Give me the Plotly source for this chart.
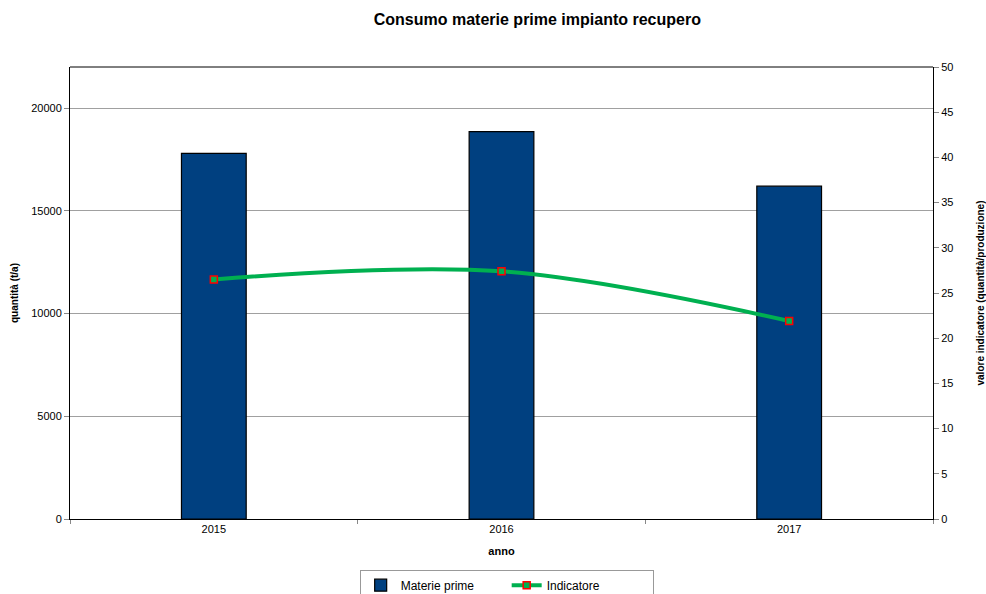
import plotly.graph_objects as go

anni = ["2015", "2016", "2017"]
materie_prime = [17800, 18850, 16200]
indicatore = [26.5, 27.4, 21.9]

y_left_ticks = [0, 5000, 10000, 15000, 20000]
y_right_ticks = list(range(0, 55, 5))

font_family = "Liberation Sans, Arial, sans-serif"

fig = go.Figure()

fig.add_trace(go.Bar(
    x=anni, y=materie_prime, name="Materie prime",
    width=0.225,
    marker=dict(color="#004080", line=dict(color="#000000", width=1.2)),
    yaxis="y",
))

fig.add_trace(go.Scatter(
    x=anni, y=indicatore, name="Indicatore",
    mode="lines+markers",
    line=dict(color="#00B050", width=4, shape="spline", smoothing=1),
    marker=dict(symbol="square", size=7, color="#00B050",
                line=dict(color="#FF0000", width=1.5)),
    yaxis="y2",
))

fig.update_layout(
    width=986, height=594,
    margin=dict(l=70, r=53, t=67, b=75),
    paper_bgcolor="white", plot_bgcolor="white",
    font=dict(family=font_family, size=11, color="#000000"),
    title=dict(text="<b>Consumo materie prime impianto recupero</b>",
               xref="container", x=0.545, xanchor="center",
               y=0.968, yanchor="middle",
               font=dict(size=16, family=font_family)),
    showlegend=True,
    legend=dict(orientation="h", x=0.506, xanchor="center",
                yref="container", y=0.041, yanchor="top",
                bordercolor="#999999", borderwidth=1, bgcolor="white",
                entrywidth=101, font=dict(size=12)),
    xaxis=dict(
        type="category", showline=True, linecolor="#000000", linewidth=1,
        ticks="outside", tickson="boundaries", ticklen=4, tickcolor="#888888",
        title=dict(text="<b>anno</b>", font=dict(size=11), standoff=13),
        tickfont=dict(size=11), showgrid=False, mirror=False,
    ),
    yaxis=dict(
        range=[0, 22000], tickvals=y_left_ticks,
        ticktext=[str(v) for v in y_left_ticks],
        showline=True, linecolor="#000000", linewidth=1,
        ticks="outside", ticklen=5, tickcolor="#888888",
        showgrid=True, gridcolor="#A0A0A0", gridwidth=1,
        title=dict(text="<b>quantità (t/a)</b>", font=dict(size=10), standoff=10),
        tickfont=dict(size=11), zeroline=False,
    ),
    yaxis2=dict(
        range=[0, 50], tickvals=y_right_ticks,
        ticktext=[str(v) for v in y_right_ticks],
        overlaying="y", side="right", automargin=False,
        showline=True, linecolor="#000000", linewidth=1,
        ticks="outside", ticklen=5, tickcolor="#888888",
        showgrid=False, zeroline=False,
        title=dict(text="<b>valore indicatore (quantità/produzione)</b>",
                   font=dict(size=10), standoff=28),
        tickfont=dict(size=11),
    ),
)

# top border of the plot area
fig.add_shape(type="line", xref="paper", yref="paper", x0=0, x1=1, y0=1, y1=1,
              line=dict(color="#000000", width=1))

fig.write_html("out.html")
